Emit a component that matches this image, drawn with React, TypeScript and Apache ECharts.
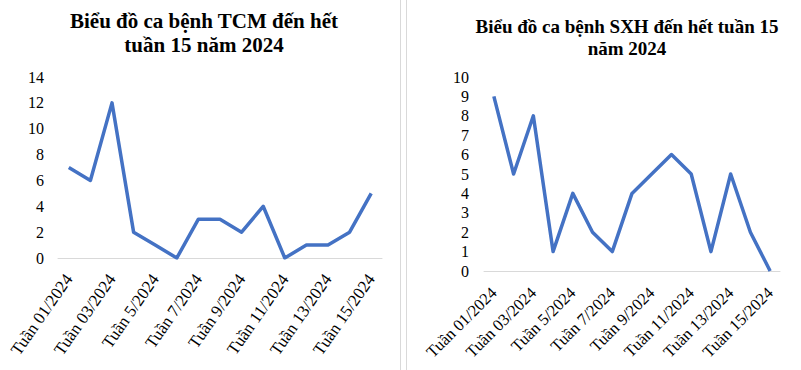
import React, { useEffect, useRef } from "react";
import * as echarts from "echarts";

const weeks = [
  "Tuần 01/2024", "Tuần 02/2024", "Tuần 03/2024", "Tuần 4/2024", "Tuần 5/2024",
  "Tuần 6/2024", "Tuần 7/2024", "Tuần 8/2024", "Tuần 9/2024", "Tuần 10/2024",
  "Tuần 11/2024", "Tuần 12/2024", "Tuần 13/2024", "Tuần 14/2024", "Tuần 15/2024",
];
const tcmCases = [7, 6, 12, 2, 1, 0, 3, 3, 2, 4, 0, 1, 1, 2, 5];
const sxhCases = [9, 5, 8, 1, 4, 2, 1, 4, 5, 6, 5, 1, 5, 2, 0];
const tcmTitle = "Biểu đồ ca bệnh TCM đến hết\ntuần 15 năm 2024";
const sxhTitle = "Biểu đồ ca bệnh SXH đến hết tuần 15\nnăm 2024";

const FONT = "Liberation Serif, serif";
const LINE = "#4472C4";

export default function App() {
  const ref = useRef<HTMLDivElement>(null);
  useEffect(() => {
    if (!ref.current) return;
    const chart = echarts.init(ref.current, null, { renderer: "svg" });
    const xAxisBase = (rotate: number, size: number, margin: number) => ({
      type: "category",
      data: weeks,
      boundaryGap: true,
      axisLine: { show: true, lineStyle: { color: "#d9d9d9", width: 1 } },
      axisTick: { show: false },
      axisLabel: {
        interval: 1,
        rotate,
        margin,
        color: "#000",
        fontFamily: FONT,
        fontSize: size,
      },
    });
    const yAxisBase = (max: number, interval: number, size: number, margin: number) => ({
      type: "value",
      min: 0,
      max,
      interval,
      axisLine: { show: false },
      axisTick: { show: false },
      splitLine: { show: false },
      axisLabel: { color: "#000", fontFamily: FONT, fontSize: size, margin },
    });
    chart.setOption({
      animation: false,
      title: [
        {
          text: tcmTitle,
          left: 199,
          top: 4,
          textAlign: "center",
          textStyle: { fontFamily: FONT, fontWeight: "bold", fontSize: 21, lineHeight: 24, color: "#000" },
        },
        {
          text: sxhTitle,
          left: 622,
          top: 10,
          textAlign: "center",
          textStyle: { fontFamily: FONT, fontWeight: "bold", fontSize: 19, lineHeight: 22, color: "#000" },
        },
      ],
      grid: [
        { left: 58, right: 419, top: 77, bottom: 112, containLabel: false },
        { left: 484, right: 21, top: 77, bottom: 99, containLabel: false },
      ],
      xAxis: [
        { ...xAxisBase(55, 17, 18), gridIndex: 0 },
        { ...xAxisBase(45, 16.5, 19), gridIndex: 1 },
      ],
      yAxis: [
        { ...yAxisBase(14, 2, 16, 14), gridIndex: 0 },
        { ...yAxisBase(10, 1, 16, 15), gridIndex: 1 },
      ],
      series: [
        {
          type: "line",
          data: tcmCases,
          xAxisIndex: 0,
          yAxisIndex: 0,
          showSymbol: false,
          symbol: "none",
          lineStyle: { color: LINE, width: 3.5, join: "round" },
        },
        {
          type: "line",
          data: sxhCases,
          xAxisIndex: 1,
          yAxisIndex: 1,
          showSymbol: false,
          symbol: "none",
          lineStyle: { color: LINE, width: 3.5, join: "round" },
        },
      ],
      graphic: [
        { type: "line", shape: { x1: 400.5, y1: 0, x2: 400.5, y2: 370 }, style: { stroke: "#d9d9d9", lineWidth: 1 } },
        { type: "line", shape: { x1: 406.5, y1: 0, x2: 406.5, y2: 370 }, style: { stroke: "#d9d9d9", lineWidth: 1 } },
      ],
    });
    return () => chart.dispose();
  }, []);
  return (
    <div
      ref={ref}
      style={{ position: "fixed", left: 0, top: 0, width: 801, height: 370, background: "#fff" }}
    />
  );
}
